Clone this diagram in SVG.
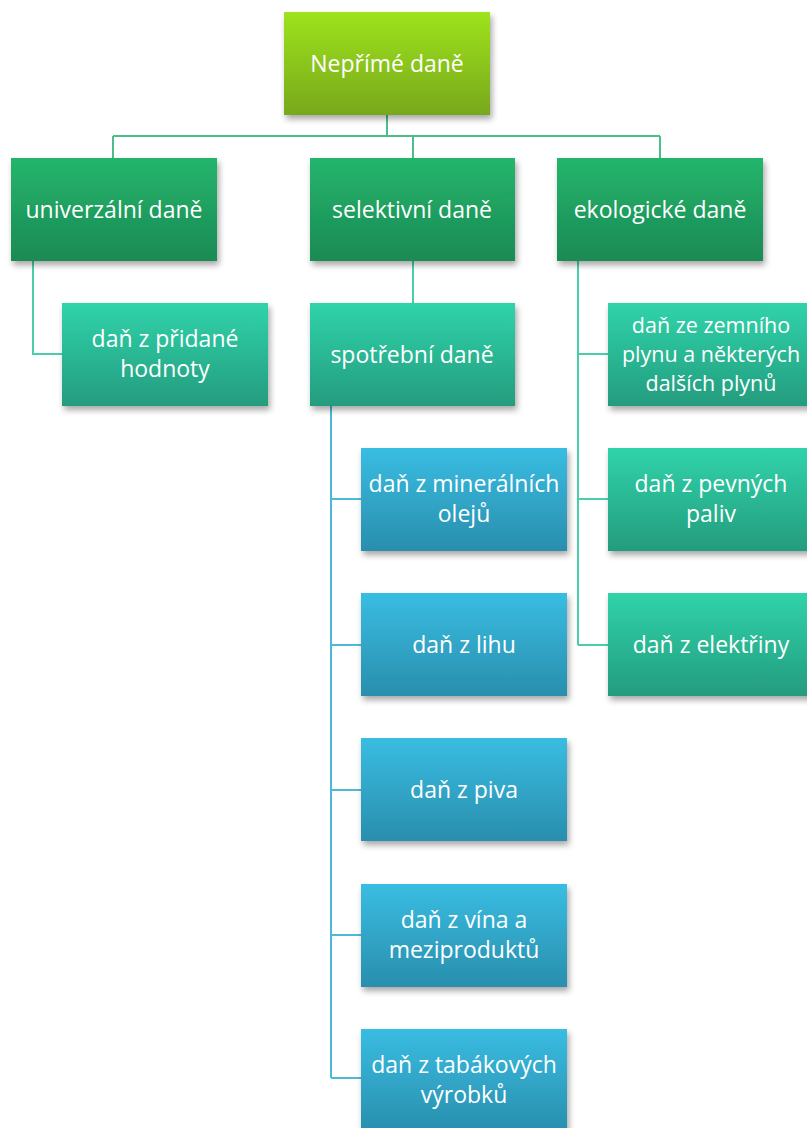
<svg xmlns="http://www.w3.org/2000/svg" width="807" height="1128" viewBox="0 0 807 1128">
<defs>
<linearGradient id="gTop" x1="0" y1="0" x2="0" y2="1"><stop offset="0" stop-color="#9ee31f"/><stop offset="1" stop-color="#78a81a"/></linearGradient>
<linearGradient id="gL2" x1="0" y1="0" x2="0" y2="1"><stop offset="0" stop-color="#23b56c"/><stop offset="1" stop-color="#1c8a54"/></linearGradient>
<linearGradient id="gTeal" x1="0" y1="0" x2="0" y2="1"><stop offset="0" stop-color="#30d3aa"/><stop offset="1" stop-color="#249c7e"/></linearGradient>
<linearGradient id="gBlue" x1="0" y1="0" x2="0" y2="1"><stop offset="0" stop-color="#39bde2"/><stop offset="1" stop-color="#298ead"/></linearGradient>
<filter id="sh" x="-10%" y="-10%" width="125%" height="130%"><feDropShadow dx="2" dy="4" stdDeviation="3" flood-color="#000" flood-opacity="0.35"/></filter>
</defs>
<style>
text{font-family:"Open Sans","Noto Sans","DejaVu Sans",sans-serif;font-size:23px;fill:#fff;text-anchor:middle}
text.s{font-size:21.5px}
.c1{stroke:#4cbf88;stroke-width:2;fill:none}
.c2{stroke:#48cfa9;stroke-width:2;fill:none}
.c3{stroke:#4cb9d6;stroke-width:2;fill:none}
</style>
<g id="connectors">
<path class="c1" d="M387 115V136M113 136H660M113 136V158M413 136V158M660 136V158"/>
<path class="c2" d="M33 261V354H62M413 261V303M578 261V645M578 354H608M578 499H608M578 645H608"/>
<path class="c3" d="M331 406V1078M331 499H361M331 645H361M331 790H361M331 935H361M331 1078H361"/>
</g>
<g id="n0"><rect x="284" y="12" width="206" height="103" fill="url(#gTop)" filter="url(#sh)"/><text x="387" y="72">Nepřímé daně</text></g>
<g id="n1"><rect x="11" y="158" width="206" height="103" fill="url(#gL2)" filter="url(#sh)"/><text x="114" y="218">univerzální daně</text></g>
<g id="n2"><rect x="310" y="158" width="205" height="103" fill="url(#gL2)" filter="url(#sh)"/><text x="412" y="218">selektivní daně</text></g>
<g id="n3"><rect x="557" y="158" width="206" height="103" fill="url(#gL2)" filter="url(#sh)"/><text x="660" y="218">ekologické daně</text></g>
<g id="n4"><rect x="62" y="303" width="206" height="103" fill="url(#gTeal)" filter="url(#sh)"/><text x="165" y="347">daň z přidané</text><text x="165" y="377">hodnoty</text></g>
<g id="n5"><rect x="310" y="303" width="205" height="103" fill="url(#gTeal)" filter="url(#sh)"/><text x="412" y="363">spotřební daně</text></g>
<g id="n6"><rect x="608" y="303" width="206" height="103" fill="url(#gTeal)" filter="url(#sh)"/><text class="s" x="711" y="333">daň ze zemního</text><text class="s" x="711" y="362">plynu a některých</text><text class="s" x="711" y="391">dalších plynů</text></g>
<g id="n7"><rect x="608" y="448" width="206" height="103" fill="url(#gTeal)" filter="url(#sh)"/><text x="711" y="492">daň z pevných</text><text x="711" y="522">paliv</text></g>
<g id="n8"><rect x="608" y="593" width="206" height="103" fill="url(#gTeal)" filter="url(#sh)"/><text x="711" y="653">daň z elektřiny</text></g>
<g id="n9"><rect x="361" y="448" width="206" height="103" fill="url(#gBlue)" filter="url(#sh)"/><text x="464" y="492">daň z minerálních</text><text x="464" y="522">olejů</text></g>
<g id="n10"><rect x="361" y="593" width="206" height="103" fill="url(#gBlue)" filter="url(#sh)"/><text x="464" y="653">daň z lihu</text></g>
<g id="n11"><rect x="361" y="738" width="206" height="103" fill="url(#gBlue)" filter="url(#sh)"/><text x="464" y="798">daň z piva</text></g>
<g id="n12"><rect x="361" y="884" width="206" height="103" fill="url(#gBlue)" filter="url(#sh)"/><text x="464" y="928">daň z vína a</text><text x="464" y="958">meziproduktů</text></g>
<g id="n13"><rect x="361" y="1029" width="206" height="103" fill="url(#gBlue)" filter="url(#sh)"/><text x="464" y="1073">daň z tabákových</text><text x="464" y="1103">výrobků</text></g>
</svg>
